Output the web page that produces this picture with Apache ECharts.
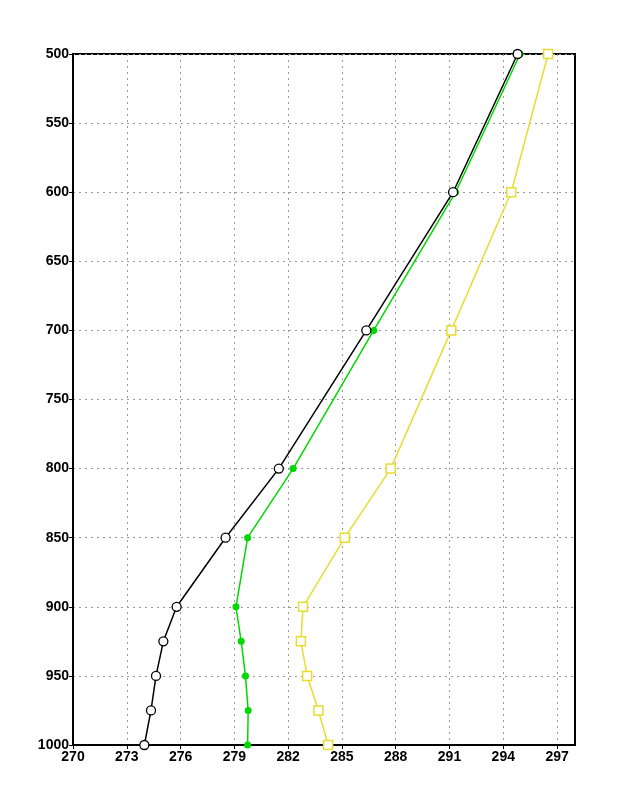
<!DOCTYPE html>
<html>
<head>
<meta charset="utf-8">
<script src="https://cdn.jsdelivr.net/npm/echarts@6/dist/echarts.min.js"></script>
<style>
  html, body { margin: 0; padding: 0; background: #fff; }
  #chart { width: 618px; height: 800px; }
</style>
</head>
<body>
<div id="chart"></div>
<script>
// pressure levels (hPa)
const levels = [500, 600, 700, 800, 850, 900, 925, 950, 975, 1000]
// temperature profiles (K)
const blackSeries = [294.8, 291.2, 286.36, 281.48, 278.51, 275.78, 275.04, 274.63, 274.35, 273.98]
const greenSeries = [294.94, 291.34, 286.77, 282.28, 279.74, 279.09, 279.38, 279.62, 279.77, 279.74]
const yellowSeries = [296.5, 294.44, 291.1, 287.72, 285.16, 282.83, 282.71, 283.06, 283.69, 284.23]

const pairs = vals => vals.map((v, i) => [v, levels[i]])

const labelFont = {
  color: '#000',
  fontSize: 14,
  fontWeight: 'bold',
  fontFamily: 'Liberation Sans',
  formatter: v => String(v)
}
const gridLine = {
  show: true,
  lineStyle: { color: '#999', width: 1, type: [2, 4] }
}

const chart = echarts.init(document.getElementById('chart'))
chart.setOption({
  animation: false,
  grid: {
    left: 73, right: 43, top: 54, bottom: 55,
    show: true, borderColor: '#000', borderWidth: 2
  },
  xAxis: {
    type: 'value',
    min: 270, max: 298, interval: 3,
    axisLine: { show: true, onZero: false, lineStyle: { color: '#000', width: 2 } },
    axisTick: { show: true, length: 4, lineStyle: { color: '#000' } },
    axisLabel: Object.assign({ margin: 5, showMaxLabel: false }, labelFont),
    splitLine: Object.assign({ showMaxLine: false }, gridLine)
  },
  yAxis: {
    type: 'value',
    inverse: true,
    min: 500, max: 1000, interval: 50,
    axisLine: { show: true, onZero: false, lineStyle: { color: '#000', width: 2 } },
    axisTick: { show: true, length: 4, lineStyle: { color: '#000' } },
    axisLabel: Object.assign({ margin: 4 }, labelFont),
    splitLine: gridLine
  },
  series: [
    {
      type: 'line',
      data: pairs(yellowSeries),
      symbol: 'rect', symbolSize: 9,
      lineStyle: { color: '#e8dc30', width: 1.5 },
      itemStyle: { color: '#fff', borderColor: '#e8dc30', borderWidth: 1.5 }
    },
    {
      type: 'line',
      data: pairs(greenSeries),
      symbol: 'circle', symbolSize: 7,
      lineStyle: { color: '#00d800', width: 1.5 },
      itemStyle: { color: '#00d800' }
    },
    {
      type: 'line',
      data: pairs(blackSeries),
      symbol: 'circle', symbolSize: 9,
      lineStyle: { color: '#000', width: 1.5 },
      itemStyle: { color: '#fff', borderColor: '#000', borderWidth: 1.3 }
    }
  ]
})
</script>
</body>
</html>
